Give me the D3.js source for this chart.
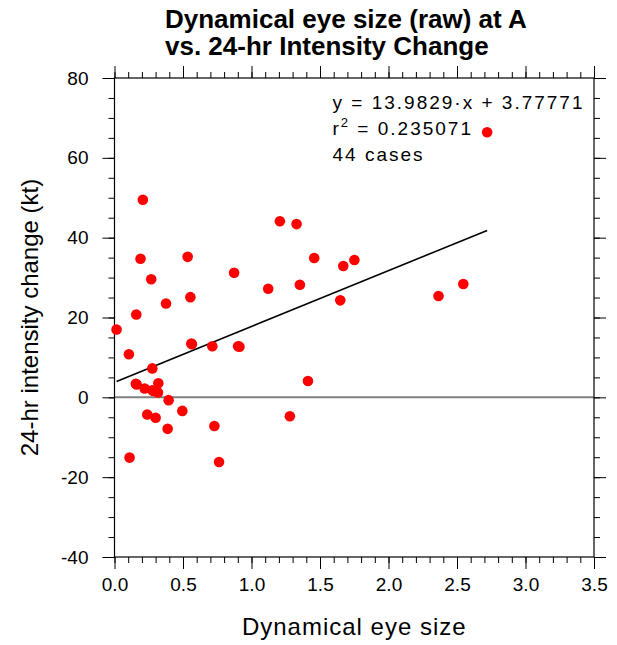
<!DOCTYPE html>
<html lang="en">
<head>
<meta charset="utf-8">
<title>Dynamical eye size vs 24-hr intensity change</title>
<script src="https://cdn.jsdelivr.net/npm/d3@7"></script>
<style>
  body { margin: 0; background: #fff; }
  text { font-family: "Liberation Sans", Arial, Helvetica, sans-serif; fill: #000; }
  .axis path { display: none; }
  .axis line { stroke: #000; stroke-width: 1; }
</style>
</head>
<body>
<script>
// eye size (x) and 24-hr intensity change in kt (y)
var eyeSize = [0.207, 1.207, 1.329, 0.19, 0.534, 0.268, 0.873, 1.122, 1.353, 0.376,
               0.554, 0.015, 0.159, 0.105, 0.561, 0.714, 0.902, 0.276, 0.156, 0.32,
               0.22, 0.276, 0.317, 0.395, 0.239, 0.30, 0.495, 0.388, 0.729, 1.28,
               0.11, 0.763, 1.458, 1.67, 1.751, 1.648, 2.365, 2.546, 1.412, 2.72,
               0.912, 0.285, 0.565, 0.162];
var intChange = [49.5, 44.1, 43.4, 34.7, 35.2, 29.6, 31.2, 27.2, 28.2, 23.5,
                 25.1, 17.0, 20.75, 10.8, 13.5, 12.8, 12.8, 7.25, 3.4, 3.5,
                 2.2, 1.75, 1.2, -0.7, -4.3, -5.1, -3.4, -7.9, -7.2, -4.75,
                 -15.1, -16.2, 34.9, 32.9, 34.4, 24.3, 25.4, 28.4, 4.1, 66.4,
                 12.7, 1.6, 13.3, 3.2];

// regression stats as printed on the chart
var slope = 13.9829;
var intercept = 3.77771;
var rSquared = "0.235071";
var nCases = 44;

var xTicks = [0, 0.5, 1.0, 1.5, 2.0, 2.5, 3.0, 3.5];
var yTicks = [-40, -20, 0, 20, 40, 60, 80];
var xMinor = d3.range(0, 3.501, 0.1);
var yMinor = d3.range(-40, 80.1, 5);

var W = 617, H = 645;
var margin = {left: 114.5, top: 78, right: 23, bottom: 88};
var width = W - margin.left - margin.right,
    height = H - margin.top - margin.bottom;

var svg = d3.select("body").append("svg")
    .attr("width", W).attr("height", H);

var g = svg.append("g")
    .attr("transform", "translate(" + margin.left + "," + margin.top + ")");

var x = d3.scaleLinear().domain([0, 3.5]).range([0, width]);
var y = d3.scaleLinear().domain([-40, 80]).range([height, 0]);

// minor ticks on every side
g.append("g").attr("class", "axis").attr("transform", "translate(0," + height + ")")
    .call(d3.axisBottom(x).tickValues(xMinor).tickSize(6).tickFormat(""));
g.append("g").attr("class", "axis")
    .call(d3.axisTop(x).tickValues(xMinor).tickSize(6).tickFormat(""));
g.append("g").attr("class", "axis")
    .call(d3.axisLeft(y).tickValues(yMinor).tickSize(6).tickFormat(""));
g.append("g").attr("class", "axis").attr("transform", "translate(" + width + ",0)")
    .call(d3.axisRight(y).tickValues(yMinor).tickSize(6).tickFormat(""));

// major ticks
var xAx = g.append("g").attr("class", "axis").attr("transform", "translate(0," + height + ")")
    .call(d3.axisBottom(x).tickValues(xTicks).tickSize(12).tickPadding(9).tickFormat(d3.format(".1f")));
xAx.selectAll("text").style("font-size", "19px");
g.append("g").attr("class", "axis")
    .call(d3.axisTop(x).tickValues(xTicks).tickSize(12).tickFormat(""));
var yAx = g.append("g").attr("class", "axis")
    .call(d3.axisLeft(y).tickValues(yTicks).tickSize(12).tickPadding(14)
        .tickFormat(function(d) { return String(d); }));
yAx.selectAll("text").style("font-size", "19px");
g.append("g").attr("class", "axis").attr("transform", "translate(" + width + ",0)")
    .call(d3.axisRight(y).tickValues(yTicks).tickSize(12).tickFormat(""));

// zero reference line
g.append("line")
    .attr("x1", 0).attr("x2", width)
    .attr("y1", y(0)).attr("y2", y(0))
    .attr("stroke", "#808080").attr("stroke-width", 2);

// frame
g.append("rect")
    .attr("width", width).attr("height", height)
    .attr("fill", "none").attr("stroke", "#000").attr("stroke-width", 1.2);

// regression line over the data range
var xmin = d3.min(eyeSize), xmax = d3.max(eyeSize);
g.append("line")
    .attr("x1", x(xmin)).attr("y1", y(slope * xmin + intercept))
    .attr("x2", x(xmax)).attr("y2", y(slope * xmax + intercept))
    .attr("stroke", "#000").attr("stroke-width", 1.6);

// points
g.selectAll(".dot")
    .data(eyeSize.map(function(d, i) { return {x: d, y: intChange[i]}; }))
  .enter().append("circle")
    .attr("class", "dot")
    .attr("cx", function(d) { return x(d.x); })
    .attr("cy", function(d) { return y(d.y); })
    .attr("r", 5.3)
    .attr("fill", "#ff0000");

// stats text
var stats = g.append("g").style("font-size", "19px").style("letter-spacing", "2px");
stats.append("text").attr("x", 218).attr("y", 31)
    .text("y = " + slope + "\u00b7x + " + intercept);
var r2 = stats.append("text").attr("x", 218).attr("y", 57);
r2.append("tspan").text("r");
r2.append("tspan").attr("dy", -8).style("font-size", "13px").text("2");
r2.append("tspan").attr("dy", 8).text(" = " + rSquared);
stats.append("text").attr("x", 218).attr("y", 83).text(nCases + " cases");

// titles
svg.append("text").attr("x", 165).attr("y", 28)
    .style("font-size", "26px").style("font-weight", "bold")
    .text("Dynamical eye size (raw) at A");
svg.append("text").attr("x", 165).attr("y", 55)
    .style("font-size", "26px").style("font-weight", "bold")
    .text("vs. 24-hr Intensity Change");

svg.append("text")
    .attr("x", margin.left + width / 2).attr("y", 635)
    .attr("text-anchor", "middle")
    .style("font-size", "24px").style("letter-spacing", "1px")
    .text("Dynamical eye size");

svg.append("text")
    .attr("transform", "translate(38," + (margin.top + height / 2) + ") rotate(-90)")
    .attr("text-anchor", "middle")
    .style("font-size", "24px")
    .text("24-hr intensity change (kt)");
</script>
</body>
</html>
